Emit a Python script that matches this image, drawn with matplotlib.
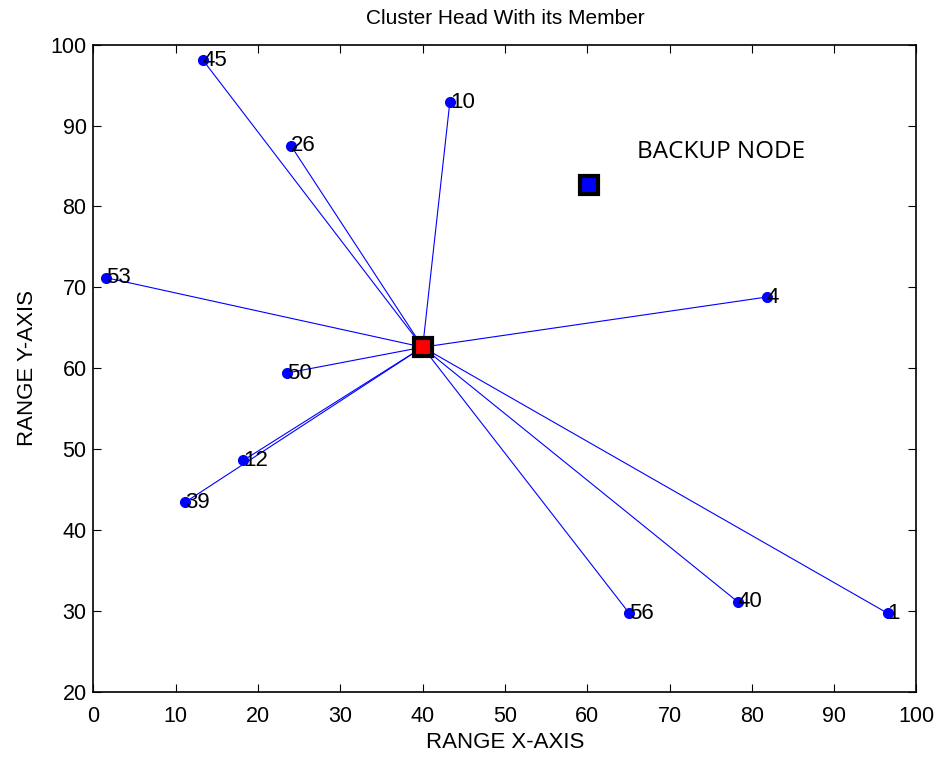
import matplotlib
matplotlib.use("Agg")
import matplotlib.pyplot as plt

# Member nodes of the cluster
node_ids = ["45", "10", "26", "53", "4", "50", "12", "39", "56", "40", "1"]
node_x = [13.3, 43.3, 24.0, 1.5, 81.8, 23.5, 18.2, 11.1, 65.1, 78.3, 96.5]
node_y = [98.1, 92.9, 87.5, 71.2, 68.8, 59.4, 48.6, 43.4, 29.7, 31.1, 29.7]

# Cluster head and backup node
head_x, head_y = 40.0, 62.6
backup_x, backup_y = 60.2, 82.7

x_ticks = list(range(0, 101, 10))
y_ticks = list(range(20, 101, 10))

plt.rcParams["font.family"] = ["Liberation Sans", "DejaVu Sans"]

fig = plt.figure(figsize=(9.46, 7.64), dpi=100)
ax = fig.add_axes([0.0988, 0.0946, 0.870, 0.8469])

for x, y in zip(node_x, node_y):
    ax.plot([head_x, x], [head_y, y], color="blue", lw=0.8, zorder=2)

ax.plot(node_x, node_y, "o", color="blue", markersize=7, zorder=3)
for lbl, x, y in zip(node_ids, node_x, node_y):
    ax.text(x, y, lbl, fontsize=16, ha="left", va="center", zorder=4)

ax.plot(head_x, head_y, "s", markerfacecolor="red", markeredgecolor="black",
        markeredgewidth=3, markersize=13, zorder=5)
ax.plot(backup_x, backup_y, "s", markerfacecolor="blue", markeredgecolor="black",
        markeredgewidth=3, markersize=13, zorder=5)
ax.text(66.0, 86.7, "BACKUP NODE", fontsize=17.5, family=["Open Sans", "DejaVu Sans"],
        ha="left", va="center")

ax.set_xlim(0, 100)
ax.set_ylim(20, 100)
ax.set_xticks(x_ticks)
ax.set_yticks(y_ticks)
ax.tick_params(direction="in", top=True, right=True, length=6, width=0.8,
               labelsize=15.5)
ax.tick_params(axis="x", pad=10)
ax.tick_params(axis="y", pad=5)
for s in ax.spines.values():
    s.set_linewidth(1.2)

ax.set_title("Cluster Head With its Member", fontsize=15, pad=15)
ax.set_xlabel("RANGE X-AXIS", fontsize=16, labelpad=4)
ax.set_ylabel("RANGE Y-AXIS", fontsize=16, labelpad=9)

fig.savefig("out.png", dpi=100)
